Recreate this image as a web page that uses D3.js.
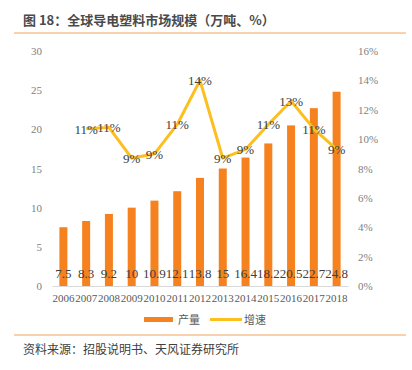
<!DOCTYPE html>
<meta charset="utf-8">
<head>
    <title>全球导电塑料市场规模</title>
    <script src="https://d3js.org/d3.v7.min.js"></script>
    <style>
        body { margin: 0; background: #ffffff; }
        svg text { font-family: "Liberation Serif", "DejaVu Serif", serif; }
        .cjk { font-family: "Noto Sans CJK SC", sans-serif; }
    </style>
</head>
<body>
<div id="my_dataviz"></div>
<script>

// data
var years = ["2006","2007","2008","2009","2010","2011","2012","2013","2014","2015","2016","2017","2018"];
var output = [7.5, 8.3, 9.2, 10, 10.9, 12.1, 13.8, 15, 16.4, 18.2, 20.5, 22.7, 24.8];
var growth = [null, 0.107, 0.108, 0.087, 0.09, 0.11, 0.14, 0.087, 0.093, 0.11, 0.126, 0.107, 0.093];
var leftTicks = [0, 5, 10, 15, 20, 25, 30];
var rightTicks = [0, 0.02, 0.04, 0.06, 0.08, 0.10, 0.12, 0.14, 0.16];

var barColor = "#F5821F", lineColor = "#FDBF1E";

var svg = d3.select("#my_dataviz")
    .append("svg")
    .attr("width", 412)
    .attr("height", 370);

// title
svg.append("text")
    .attr("class", "cjk")
    .attr("x", 23).attr("y", 25)
    .text("图 18：全球导电塑料市场规模（万吨、%）")
    .style("font-size", "13px").style("font-weight", "bold")
    .attr("fill", "#4a4a4a");
svg.append("line")
    .attr("x1", 14).attr("x2", 406).attr("y1", 33).attr("y2", 33)
    .attr("stroke", "#F0A45D").attr("stroke-width", 1);

// scales
var x = d3.scaleBand().domain(years).range([52, 348]);
var y = d3.scaleLinear().domain([0, 30]).range([286, 51]);
var y2 = d3.scaleLinear().domain([0, 0.16]).range([286, 51]);

// left axis
svg.append("g")
    .attr("transform", "translate(52,0)")
    .call(d3.axisLeft(y).tickValues(leftTicks).tickSize(0).tickPadding(10))
    .call(function(g) { g.select(".domain").remove(); })
    .selectAll("text")
    .style("font-size", "11px").attr("fill", "#808080")
    .style("font-family", "Liberation Serif");

// right axis
svg.append("g")
    .attr("transform", "translate(348,0)")
    .call(d3.axisRight(y2).tickValues(rightTicks).tickFormat(d3.format(".0%")).tickSize(0).tickPadding(10))
    .call(function(g) { g.select(".domain").remove(); })
    .selectAll("text")
    .style("font-size", "11px").attr("fill", "#808080")
    .style("font-family", "Liberation Serif");

// bottom axis
svg.append("g")
    .attr("transform", "translate(0,286)")
    .call(d3.axisBottom(x).tickSize(0).tickPadding(8))
    .call(function(g) { g.select(".domain").attr("stroke", "#d9d9d9"); })
    .selectAll("text")
    .style("font-size", "11px").attr("fill", "#595959")
    .style("font-family", "Liberation Serif");

// bars
svg.selectAll(".bar")
    .data(output)
    .enter().append("rect")
    .attr("x", function(d, i) { return x(years[i]) + x.bandwidth() / 2 - 4; })
    .attr("width", 8)
    .attr("y", function(d) { return y(d); })
    .attr("height", function(d) { return y(0) - y(d); })
    .attr("fill", barColor);

// bar labels
svg.selectAll(".blab")
    .data(output)
    .enter().append("text")
    .attr("x", function(d, i) { return x(years[i]) + x.bandwidth() / 2; })
    .attr("y", 278)
    .attr("text-anchor", "middle")
    .text(function(d) { return d; })
    .style("font-size", "13px")
    .attr("fill", "#404040");

// growth line
var pts = growth.map(function(g, i) { return {yr: years[i], v: g}; }).filter(function(d) { return d.v !== null; });
svg.append("path")
    .datum(pts)
    .attr("fill", "none")
    .attr("stroke", lineColor)
    .attr("stroke-width", 3)
    .attr("stroke-linejoin", "round")
    .attr("d", d3.line()
        .x(function(d) { return x(d.yr) + x.bandwidth() / 2; })
        .y(function(d) { return y2(d.v); }));

// growth labels
svg.selectAll(".glab")
    .data(pts)
    .enter().append("text")
    .attr("x", function(d) { return x(d.yr) + x.bandwidth() / 2; })
    .attr("y", function(d) { return y2(d.v) + 5; })
    .attr("text-anchor", "middle")
    .text(function(d) { return Math.round(d.v * 100) + "%"; })
    .style("font-size", "13px")
    .attr("fill", "#404040");

// legend
svg.append("rect").attr("x", 144).attr("y", 317).attr("width", 29).attr("height", 5).attr("fill", barColor);
svg.append("text").attr("class", "cjk").attr("x", 178).attr("y", 324).text("产量")
    .style("font-size", "11px").attr("fill", "#595959");
svg.append("line").attr("x1", 210).attr("x2", 242).attr("y1", 319.5).attr("y2", 319.5)
    .attr("stroke", lineColor).attr("stroke-width", 3);
svg.append("text").attr("class", "cjk").attr("x", 244).attr("y", 324).text("增速")
    .style("font-size", "11px").attr("fill", "#595959");

// source
svg.append("line")
    .attr("x1", 14).attr("x2", 406).attr("y1", 335).attr("y2", 335)
    .attr("stroke", "#F0A45D").attr("stroke-width", 1);
svg.append("text")
    .attr("class", "cjk")
    .attr("x", 23).attr("y", 354)
    .text("资料来源：招股说明书、天风证券研究所")
    .style("font-size", "12px")
    .attr("fill", "#404040");

</script>
</body>
</html>
